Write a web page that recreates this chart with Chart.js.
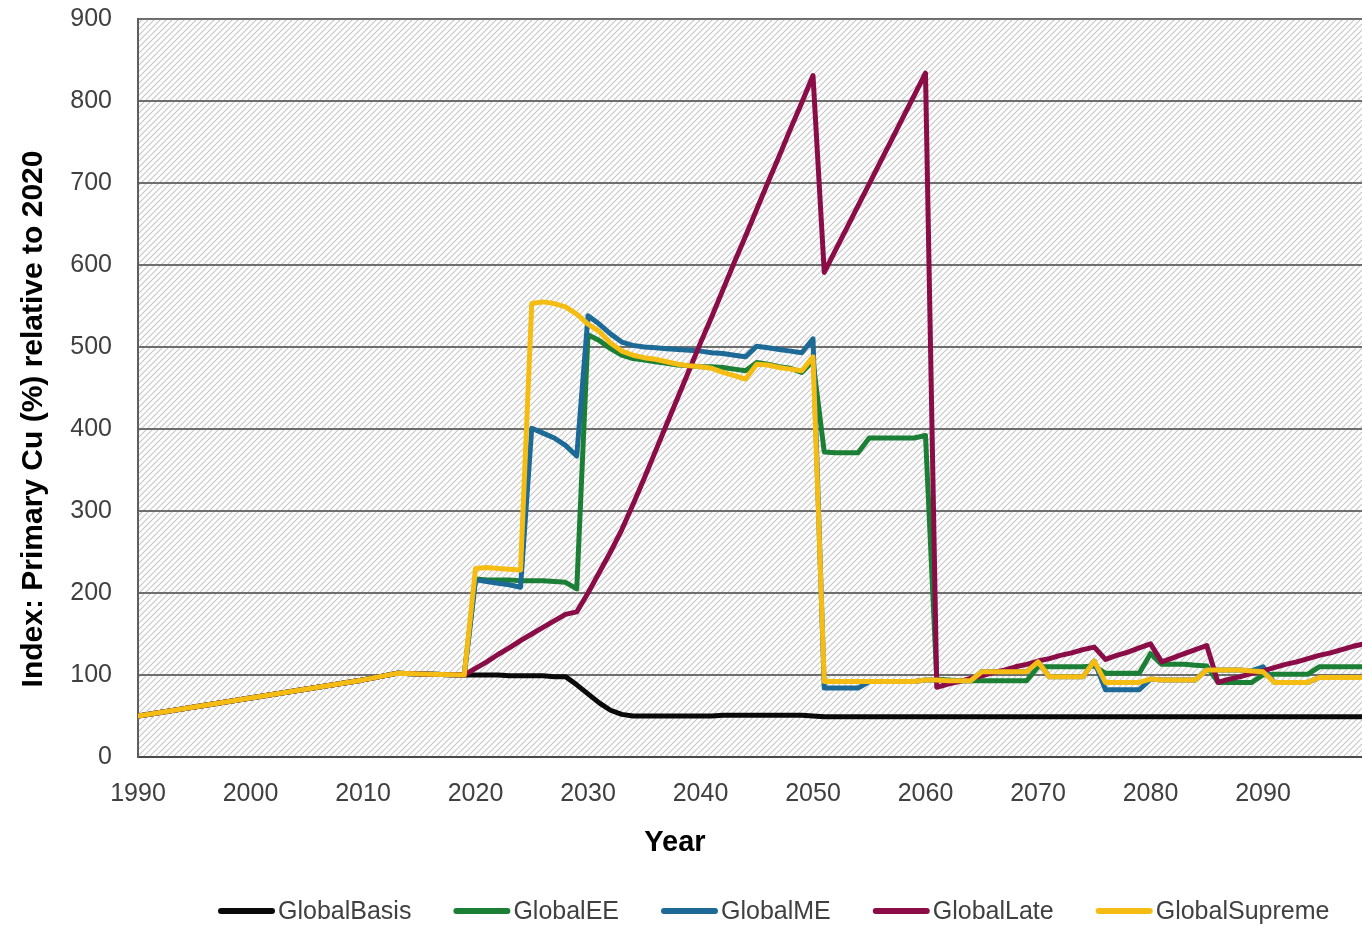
<!DOCTYPE html>
<html>
<head>
<meta charset="utf-8">
<script src="https://cdn.jsdelivr.net/npm/chart.js@4.4.1/dist/chart.umd.min.js"></script>
<style>
  html, body { margin: 0; padding: 0; background: #ffffff; }
  canvas { display: block; }
</style>
</head>
<body>
<canvas id="chart" width="1362" height="928"></canvas>
<script>
// Shared history (index = 100 around 2020)
const historyYears  = [1990, 2000, 2010, 2013, 2016, 2019];
const historyValues = [50, 72, 94, 102, 101, 100];

// Yearly scenario projections
const projectionYears = [
  2020, 2021, 2022, 2023, 2024, 2025, 2026, 2027, 2028, 2029,
  2030, 2031, 2032, 2033, 2034, 2035, 2036, 2037, 2038, 2039,
  2040, 2041, 2042, 2043, 2044, 2045, 2046, 2047, 2048, 2049,
  2050, 2051, 2052, 2053, 2054, 2055, 2056, 2057, 2058, 2059,
  2060, 2061, 2062, 2063, 2064, 2065, 2066, 2067, 2068, 2069,
  2070, 2071, 2072, 2073, 2074, 2075, 2076, 2077, 2078, 2079,
  2080, 2081, 2082, 2083, 2084, 2085, 2086, 2087, 2088, 2089,
  2090, 2091, 2092, 2093, 2094, 2095, 2096, 2097, 2098, 2099,
  2100
];

const globalBasis = [
  100, 100, 100, 99, 99, 99, 99, 98, 98, 88,
  77, 66, 57, 52, 50, 50, 50, 50, 50, 50,
  50, 50, 51, 51, 51, 51, 51, 51, 51, 51,
  50, 49, 49, 49, 49, 49, 49, 49, 49, 49,
  49, 49, 49, 49, 49, 49, 49, 49, 49, 49,
  49, 49, 49, 49, 49, 49, 49, 49, 49, 49,
  49, 49, 49, 49, 49, 49, 49, 49, 49, 49,
  49, 49, 49, 49, 49, 49, 49, 49, 49, 49,
  49
];

const globalEE = [
  217, 216, 216, 216, 215, 215, 215, 214, 213, 205,
  515, 508, 498, 490, 486, 484, 482, 480, 478, 477,
  476, 476, 475, 473, 471, 481, 479, 476, 474, 469,
  483, 372, 371, 371, 371, 389, 389, 389, 389, 389,
  392, 95, 94, 93, 93, 93, 93, 93, 93, 93,
  110, 110, 110, 110, 110, 111, 102, 102, 102, 102,
  126, 113, 113, 113, 112, 111, 91, 91, 91, 91,
  100, 101, 101, 101, 101, 110, 110, 110, 110, 110,
  110
];

const globalME = [
  216, 214, 212, 210, 207, 401, 395, 389, 380, 367,
  538, 528, 516, 506, 502, 500, 499, 498, 497, 496,
  495, 493, 492, 490, 488, 501, 499, 497, 495, 493,
  510, 84, 84, 84, 84, 92, 92, 92, 92, 92,
  94, 94, 93, 93, 93, 104, 104, 104, 104, 104,
  116, 98, 98, 98, 98, 117, 82, 82, 82, 82,
  95, 94, 94, 94, 94, 106, 106, 106, 106, 105,
  110, 91, 91, 91, 91, 97, 97, 97, 97, 97,
  97
];

const globalLate = [
  108, 116, 125, 133, 142, 150, 158, 166, 174, 177,
  200, 225, 250, 277, 308, 340, 373, 406, 439, 472,
  505, 537, 570, 603, 635, 668, 701, 733, 766, 798,
  831, 591, 618, 645, 672, 699, 726, 753, 780, 807,
  834, 85, 89, 92, 96, 99, 103, 106, 110, 113,
  117, 120, 124, 127, 131, 134, 119, 124, 128, 133,
  138, 116, 121, 126, 131, 136, 91, 95, 98, 102,
  105, 109, 113, 116, 120, 124, 127, 131, 135, 138,
  142
];

const globalSupreme = [
  230, 231, 230, 229, 228, 553, 555, 553, 549, 540,
  528, 519, 505, 495, 490, 487, 485, 482, 479, 477,
  476, 474, 469, 465, 461, 479, 478, 475, 473, 471,
  488, 92, 92, 92, 92, 92, 92, 92, 92, 92,
  94, 94, 93, 93, 93, 104, 104, 104, 104, 104,
  116, 98, 98, 98, 98, 117, 91, 91, 91, 91,
  95, 94, 94, 94, 94, 106, 106, 106, 106, 105,
  104, 91, 91, 91, 91, 97, 97, 97, 97, 97,
  97
];

const seriesNames  = ['GlobalBasis', 'GlobalEE', 'GlobalME', 'GlobalLate', 'GlobalSupreme'];
const seriesColors = ['#0a0a0a', '#1c7f36', '#1d6a97', '#8a0d47', '#f5bd14'];
const yearTicks    = [1990, 2000, 2010, 2020, 2030, 2040, 2050, 2060, 2070, 2080, 2090];
const yTickStep    = 100;

const allYears = historyYears.concat(projectionYears);
const seriesValues = [globalBasis, globalEE, globalME, globalLate, globalSupreme];

const FONT = "'Liberation Sans', Arial, sans-serif";

// Diagonal hatch tile for the plot background
const hatchTile = (() => {
  const n = 6;
  const t = document.createElement('canvas');
  t.width = n; t.height = n;
  const g = t.getContext('2d');
  g.fillStyle = '#ffffff';
  g.fillRect(0, 0, n, n);
  g.strokeStyle = '#c6c6c6';
  g.lineWidth = 1.1;
  g.beginPath();
  g.moveTo(-1, n + 1); g.lineTo(n + 1, -1);
  g.moveTo(-1, 1); g.lineTo(1, -1);
  g.moveTo(n - 1, n + 1); g.lineTo(n + 1, n - 1);
  g.stroke();
  return t;
})();

const decorPlugin = {
  id: 'decor',
  beforeDraw(chart) {
    const { ctx, chartArea: a } = chart;
    ctx.save();
    ctx.fillStyle = ctx.createPattern(hatchTile, 'repeat');
    ctx.fillRect(a.left, a.top, a.right - a.left, a.bottom - a.top);
    ctx.restore();
  },
  afterDraw(chart) {
    const ctx = chart.ctx;
    ctx.save();
    // axis titles
    ctx.fillStyle = '#000000';
    ctx.textAlign = 'center';
    ctx.textBaseline = 'middle';
    ctx.font = 'bold 29px ' + FONT;
    ctx.fillText('Year', 675, 843);
    ctx.save();
    ctx.translate(34, 419);
    ctx.rotate(-Math.PI / 2);
    ctx.font = 'bold 30px ' + FONT;
    ctx.fillText('Index: Primary Cu (%) relative to 2020', 0, 0);
    ctx.restore();

    // legend row
    ctx.font = '25px ' + FONT;
    ctx.textAlign = 'left';
    ctx.textBaseline = 'middle';
    let x = 218;
    const y = 911;
    chart.data.datasets.forEach(ds => {
      ctx.strokeStyle = ds.borderColor;
      ctx.lineWidth = 6;
      ctx.lineCap = 'round';
      ctx.beginPath();
      ctx.moveTo(x + 3, y);
      ctx.lineTo(x + 54, y);
      ctx.stroke();
      ctx.fillStyle = '#404040';
      ctx.fillText(ds.label, x + 60, y + 1);
      x += 60 + ctx.measureText(ds.label).width + 42;
    });
    ctx.restore();
  }
};

new Chart(document.getElementById('chart'), {
  type: 'line',
  data: {
    labels: allYears,
    datasets: seriesNames.map((name, i) => ({
      label: name,
      data: historyValues.concat(seriesValues[i]),
      borderColor: seriesColors[i],
      backgroundColor: seriesColors[i],
      borderWidth: 5,
      pointRadius: 0,
      tension: 0,
      borderJoinStyle: 'round',
      borderCapStyle: 'round',
      order: seriesNames.length - i
    }))
  },
  options: {
    responsive: false,
    animation: false,
    devicePixelRatio: 1,
    layout: { padding: { top: 19, right: 0, bottom: 0, left: 0 } },
    plugins: {
      legend: { display: false },
      tooltip: { enabled: false }
    },
    scales: {
      x: {
        type: 'linear',
        min: 1990,
        max: 2098.8,
        afterBuildTicks: s => { s.ticks = yearTicks.map(v => ({ value: v })); },
        afterFit: s => { s.height = 171; s.paddingLeft = 0; s.paddingRight = 0; },
        grid: { display: false, drawTicks: false },
        border: { display: true, color: '#4a4a4a', width: 2 },
        ticks: {
          padding: 22,
          maxRotation: 0,
          autoSkip: false,
          color: '#404040',
          font: { family: FONT, size: 25 },
          callback: v => String(v)
        }
      },
      y: {
        min: 0,
        max: 900,
        afterFit: s => { s.width = 138; s.paddingTop = 0; s.paddingBottom = 0; },
        grid: { color: '#6e6e6e', lineWidth: 2, drawTicks: false },
        border: { display: true, color: '#5e5e5e', width: 2 },
        ticks: {
          stepSize: yTickStep,
          padding: 26,
          color: '#404040',
          font: { family: FONT, size: 25 }
        }
      }
    }
  },
  plugins: [decorPlugin]
});
</script>
</body>
</html>
